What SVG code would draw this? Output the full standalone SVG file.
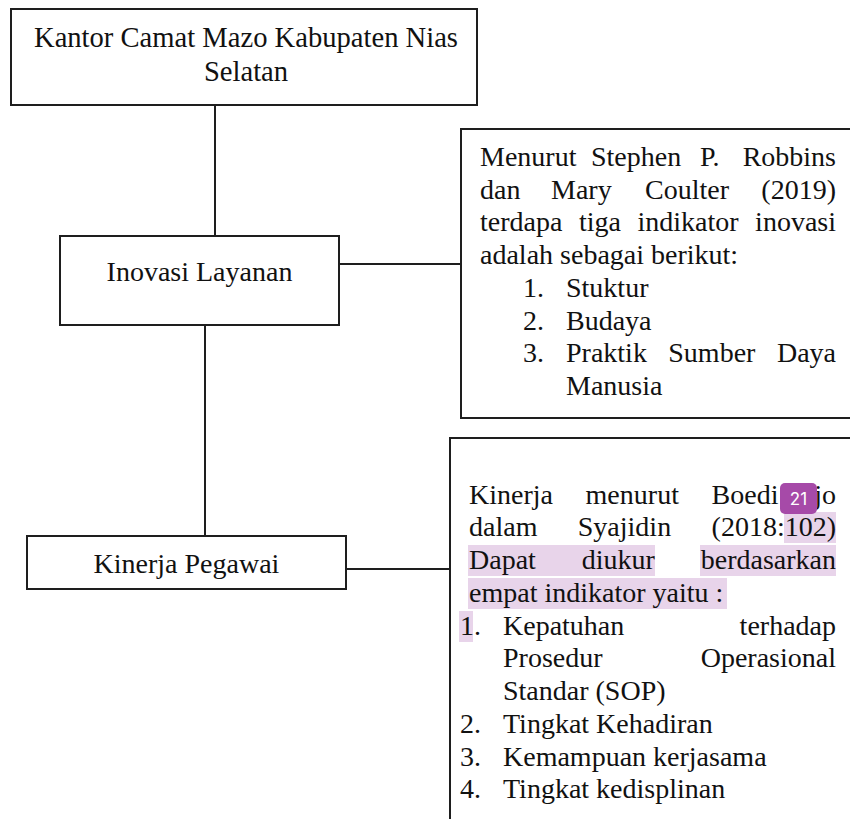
<svg xmlns="http://www.w3.org/2000/svg" width="850" height="819" viewBox="0 0 850 819">
<style>
.box{fill:#fff;stroke:#1e1e1e;stroke-width:2}
.ln{stroke:#1e1e1e;stroke-width:2;fill:none}
.t{font-family:'Liberation Serif','Times New Roman',serif;font-size:28px;fill:#111}
.c{text-anchor:middle}
.e{text-anchor:end}
.hl{fill:#e8d4ea}
.badge{fill:#a64aa8}
.bt{font-family:Inter,'DejaVu Sans',sans-serif;font-size:17px;fill:#fff;text-anchor:middle}
</style>
<rect width="850" height="819" fill="#fff"/>
<g id="connectors">
<line class="ln" x1="215" y1="105" x2="215" y2="236"/>
<line class="ln" x1="339" y1="264" x2="461" y2="264"/>
<line class="ln" x1="205" y1="325" x2="205" y2="536"/>
<line class="ln" x1="346" y1="569" x2="450" y2="569"/>
</g>
<g id="kantor" class="t">
<rect class="box" x="11" y="9" width="466" height="96"/>
<text class="c" x="246" y="47" font-size="28.6">Kantor Camat Mazo Kabupaten Nias</text>
<text class="c" x="246" y="81" font-size="28.6">Selatan</text>
</g>
<g id="inovasi" class="t">
<rect class="box" x="60" y="236" width="279" height="89"/>
<text class="c" x="199.5" y="281">Inovasi Layanan</text>
</g>
<g id="kinerja" class="t">
<rect class="box" x="27" y="536" width="319" height="53"/>
<text class="c" x="186.5" y="573">Kinerja Pegawai</text>
</g>
<g id="robbins" class="t">
<rect class="box" x="461" y="129" width="400" height="289"/>
<text x="480" y="166">Menurut</text><text x="591" y="166">Stephen</text><text x="700" y="166">P.</text><text class="e" x="836" y="166">Robbins</text>
<text x="480" y="198.7">dan</text><text x="551" y="198.7">Mary</text><text x="645" y="198.7">Coulter</text><text class="e" x="836" y="198.7">(2019)</text>
<text x="480" y="231.4">terdapa</text><text x="579" y="231.4">tiga</text><text x="637.4" y="231.4">indikator</text><text class="e" x="836" y="231.4">inovasi</text>
<text x="480" y="264.1">adalah sebagai berikut:</text>
<text x="523" y="296.8">1.</text><text x="566" y="296.8">Stuktur</text>
<text x="523" y="329.5">2.</text><text x="566" y="329.5">Budaya</text>
<text x="523" y="362.2">3.</text><text x="566" y="362.2">Praktik</text><text x="668.3" y="362.2">Sumber</text><text class="e" x="836" y="362.2">Daya</text>
<text x="566" y="394.9">Manusia</text>
</g>
<g id="boediharjo" class="t">
<rect class="box" x="450" y="438" width="410" height="400"/>
<rect class="hl" x="784" y="512" width="52" height="31"/>
<rect class="hl" x="468" y="545" width="187" height="31"/>
<rect class="hl" x="700" y="545" width="136" height="31"/>
<rect class="hl" x="468" y="578" width="259" height="31"/>
<rect class="hl" x="459" y="611" width="14" height="31"/>
<text x="469" y="503.5">Kinerja</text><text x="585.6" y="503.5">menurut</text><text x="711.6" y="503.5">Boedi</text><text class="e" x="836" y="503.5">jo</text>
<text x="469" y="536.3">dalam</text><text x="577.8" y="536.3">Syajidin</text><text class="e" x="836" y="536.3">(2018:102)</text>
<text x="469" y="569">Dapat</text><text x="581.8" y="569">diukur</text><text class="e" x="836" y="569">berdasarkan</text>
<text x="469" y="601.8">empat indikator yaitu :</text>
<text x="460" y="634.5">1.</text><text x="503" y="634.5">Kepatuhan</text><text class="e" x="836" y="634.5">terhadap</text>
<text x="503" y="667.3">Prosedur</text><text class="e" x="836" y="667.3">Operasional</text>
<text x="503" y="700">Standar (SOP)</text>
<text x="460" y="732.8">2.</text><text x="503" y="732.8">Tingkat Kehadiran</text>
<text x="460" y="765.5">3.</text><text x="503" y="765.5">Kemampuan kerjasama</text>
<text x="460" y="798.3">4.</text><text x="503" y="798.3">Tingkat kedisplinan</text>
<rect class="badge" x="780" y="483" width="37" height="31" rx="5"/>
<text class="bt" x="798.5" y="505">21</text>
</g>
</svg>
